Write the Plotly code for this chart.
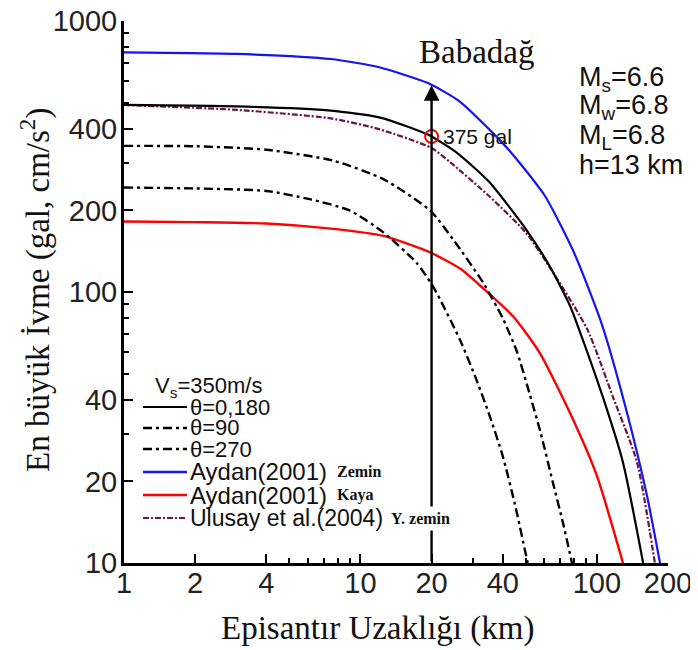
import numpy as np
import plotly.graph_objects as go

# ---------------- data ----------------
aydan_zemin_x = [1, 3, 7.5, 12, 19.3, 26, 36, 43, 60, 80, 105, 134, 163, 185]
aydan_zemin_y = [766, 756, 724, 675, 590, 508, 389, 330, 228, 140, 76, 36, 17.7, 10]

aydan_kaya_x = [1, 2, 4, 7.7, 12.5, 19.7, 26.4, 33.1, 44.4, 57.5, 79.5, 100, 129]
aydan_kaya_y = [182, 181, 179, 171, 161, 140, 122, 103, 81, 59.4, 33.7, 21, 10]

ulusay_x = [1, 3, 7.5, 12, 20, 24, 35, 50, 63, 91, 117, 148, 176]
ulusay_y = [490, 470, 437, 399, 340, 301, 226, 166, 124, 73, 41, 23.5, 10]

theta0_x = [1, 3, 7.5, 12, 16, 20, 26, 35, 50, 63, 77, 84, 106, 129, 157]
theta0_y = [490, 484, 467, 441, 406, 375, 323, 255, 171, 125, 89, 73, 41, 23.5, 10]

theta90_x = [1, 2, 4, 7.7, 12.5, 19.7, 24.7, 33.1, 40, 46, 52, 58, 65, 72, 78.5]
theta90_y = [346, 345, 335, 305, 261, 200, 156, 108, 80, 60, 42, 30, 20, 14, 10]

theta270_x = [1, 2, 4, 6.1, 9, 12.5, 17.3, 20, 21.7, 26.4, 31, 35.3, 40, 45, 51]
theta270_y = [243, 241, 236, 220, 200, 166, 128, 107, 94, 66.5, 47.3, 34.7, 24.8, 16.5, 10]

babadag_km = 20
babadag_pga = 375

x_tick_vals = [1, 2, 4, 10, 20, 40, 100, 200]
x_minor_vals = [5, 6, 7, 8, 9, 30, 50, 60, 70, 80, 90]
y_tick_vals = [10, 20, 40, 100, 200, 400, 1000]
y_minor_vals = [30, 50, 60, 70, 80, 90, 300, 500, 600, 700, 800, 900]

# ---------------- styles ----------------
BLUE = "#1414F5"
RED = "#FF0000"
PURPLE = "#6E1440"
DD = "9px,4px,3px,4px"
PDD = "6px,2px,2px,2px"
SANS = "Liberation Sans, Arial, sans-serif"
SERIF = "Liberation Serif, Times New Roman, serif"

# page body has an 8px margin, so the figure is drawn 8px in from the corner
OFF = 8
W, H = 698 - OFF, 650 - OFF
# plot area in page pixels: x 124..668, y 21..563
PX0, PX1, PY0, PY1 = 124, 668, 21, 563
L, R, T, B = PX0 - OFF, 698 - PX1, PY0 - OFF, 650 - PY1


def pxx(px):
    return (px - PX0) / (PX1 - PX0)


def pxy(py):
    return (PY1 - py) / (PY1 - PY0)


fig = go.Figure()

series = [
    ("Aydan(2001) Zemin", aydan_zemin_x, aydan_zemin_y, BLUE, 2.2, "solid"),
    ("Aydan(2001) Kaya", aydan_kaya_x, aydan_kaya_y, RED, 2.4, "solid"),
    ("Ulusay et al.(2004) Y. zemin", ulusay_x, ulusay_y, PURPLE, 2.2, PDD),
    ("θ=0,180", theta0_x, theta0_y, "black", 2.2, "solid"),
    ("θ=90", theta90_x, theta90_y, "black", 2.4, DD),
    ("θ=270", theta270_x, theta270_y, "black", 2.4, DD),
]
for name, xs, ys, col, wid, dash in series:
    fig.add_trace(go.Scatter(
        x=xs, y=ys, mode="lines", name=name, showlegend=False,
        line=dict(color=col, width=wid, dash=dash, shape="spline", smoothing=0.6),
    ))

# arrow top sits on the Aydan Zemin curve at the Babadağ distance
arrow_top = 10 ** np.interp(np.log10(babadag_km), np.log10(aydan_zemin_x), np.log10(aydan_zemin_y))

fig.add_annotation(
    x=np.log10(babadag_km), y=np.log10(arrow_top), ax=np.log10(babadag_km), ay=np.log10(10),
    xref="x", yref="y", axref="x", ayref="y", text="", showarrow=True,
    arrowhead=2, arrowsize=1.3, arrowwidth=2.4, arrowcolor="black", standoff=0,
)

fig.add_trace(go.Scatter(
    x=[babadag_km], y=[babadag_pga], mode="markers", showlegend=False, name="Babadağ",
    marker=dict(symbol="circle-open", size=13, color=RED, line=dict(width=2, color=RED)),
))

fig.add_annotation(x=np.log10(babadag_km), y=np.log10(babadag_pga), xref="x", yref="y",
                   text=f"{babadag_pga} gal", showarrow=False, xanchor="left", yanchor="middle",
                   xshift=9, font=dict(family=SANS, size=21, color="#111"))

# ---------------- legend (manual) ----------------
leg_rows = [
    ("θ=0,180", "black", 2.2, "solid", 407, 22, None),
    ("θ=90", "black", 2.4, DD, 428, 22, None),
    ("θ=270", "black", 2.4, DD, 449, 22, None),
    ("Aydan(2001)", BLUE, 2.4, "solid", 472, 24, ("Zemin", 336)),
    ("Aydan(2001)", RED, 2.4, "solid", 495, 24, ("Kaya", 336)),
    ("Ulusay et al.(2004)", PURPLE, 2.2, PDD, 518, 23, ("Y. zemin", 387)),
]
shapes = []
annots = []
annots.append(dict(x=pxx(153), y=pxy(387), xref="paper", yref="paper", text="V<sub>s</sub>=350m/s",
                   showarrow=False, xanchor="left", yanchor="middle",
                   font=dict(family=SANS, size=22, color="#111")))
for txt, col, wid, dash, py, size, extra in leg_rows:
    shapes.append(dict(type="line", xref="paper", yref="paper", x0=pxx(143), x1=pxx(187),
                       y0=pxy(py), y1=pxy(py), line=dict(color=col, width=wid, dash=dash)))
    annots.append(dict(x=pxx(188), y=pxy(py), xref="paper", yref="paper", text=txt, showarrow=False,
                       xanchor="left", yanchor="middle", font=dict(family=SANS, size=size, color="#111")))
    if extra is not None:
        lab, lx = extra
        boxed = lab == "Y. zemin"
        annots.append(dict(x=pxx(lx), y=pxy(py), xref="paper", yref="paper", text=f"<b>{lab}</b>",
                           showarrow=False, xanchor="left", yanchor="middle",
                           bgcolor="white" if boxed else None, borderpad=3 if boxed else 0,
                           font=dict(family=SERIF, size=16, color="#111")))

# texts on the right
annots.append(dict(x=pxx(476), y=pxy(52), xref="paper", yref="paper", text="Babadağ", showarrow=False,
                   xanchor="center", yanchor="middle", font=dict(family=SERIF, size=33, color="#111")))
for txt, py in [("M<sub>s</sub>=6.6", 79), ("M<sub>w</sub>=6.8", 107), ("M<sub>L</sub>=6.8", 137),
                ("h=13 km", 165)]:
    annots.append(dict(x=pxx(577), y=pxy(py), xref="paper", yref="paper", text=txt, showarrow=False,
                       xanchor="left", yanchor="middle", font=dict(family=SANS, size=27, color="#111")))

# axis titles
annots.append(dict(x=pxx(377), y=pxy(628), xref="paper", yref="paper", text="Episantır Uzaklığı (km)",
                   showarrow=False, xanchor="center", yanchor="middle",
                   font=dict(family=SERIF, size=33, color="#111")))
annots.append(dict(x=pxx(35), y=pxy(290), xref="paper", yref="paper", text="En büyük İvme (gal, cm/s<sup>2</sup>)",
                   showarrow=False, xanchor="center", yanchor="middle", textangle=-90,
                   font=dict(family=SERIF, size=33, color="#111")))

for a in annots:
    fig.add_annotation(**a)

axis_common = dict(
    type="log", showgrid=False, zeroline=False, showline=True, linecolor="black", linewidth=3,
    ticks="inside", ticklen=9, tickwidth=2, tickcolor="black", automargin=False,
    ticklabeloverflow="allow",
    tickfont=dict(family=SANS, size=29, color="#222"),
)
fig.update_xaxes(**axis_common, range=[0, np.log10(200)], tickmode="array", tickvals=x_tick_vals,
                 ticktext=[str(v) for v in x_tick_vals], ticklabelstandoff=-8,
                 minor=dict(tickmode="array", tickvals=x_minor_vals, ticks="inside", ticklen=5,
                            tickwidth=1.5, tickcolor="black", showgrid=False))
fig.update_yaxes(**axis_common, range=[1, 3], tickmode="array", tickvals=y_tick_vals,
                 ticktext=[str(v) for v in y_tick_vals], ticklabelstandoff=-2,
                 minor=dict(tickmode="array", tickvals=y_minor_vals, ticks="inside", ticklen=5,
                            tickwidth=1.5, tickcolor="black", showgrid=False))

fig.update_layout(
    template="none",
    width=W, height=H, margin=dict(l=L, r=R, t=T, b=B, autoexpand=False),
    paper_bgcolor="white", plot_bgcolor="white", shapes=shapes, showlegend=False,
)

fig.write_html("out.html")
